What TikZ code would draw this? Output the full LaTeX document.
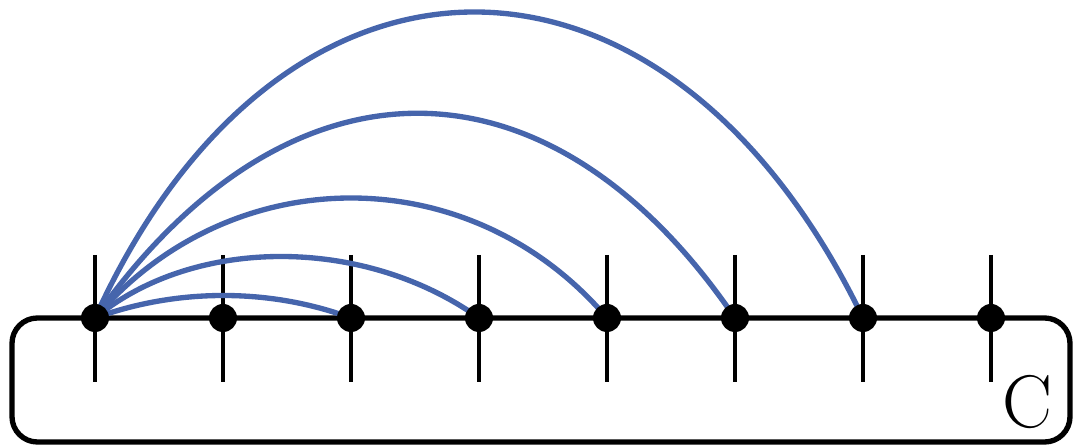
\documentclass[tikz,border=0pt]{standalone}
\definecolor{arcblue}{RGB}{70,101,172}
\begin{document}
\begin{tikzpicture}[x=0.75pt,y=-0.75pt,
  dot/.style={circle,fill=black,inner sep=0pt,minimum size=21pt},
  tick/.style={line width=2.4pt},
  arcline/.style={draw=arcblue,line width=4pt},
  frame/.style={line width=4pt,rounded corners=19pt}]
\useasboundingbox (0,0) rectangle (1076,448);
\draw[frame] (12,318) rectangle (1070,442);
\foreach \i in {1,...,8} {
  \coordinate (t\i) at ({95+128*(\i-1)},255);
  \coordinate (b\i) at ({95+128*(\i-1)},382);
  \draw[tick] (t\i) -- (b\i);
}
\foreach \i in {1,...,8} {
  \coordinate (p\i) at ({95+128*(\i-1)},318);
}
\draw[arcline] (p1) .. controls (177,288) and (270,288) .. (p3);
\draw[arcline] (p1) .. controls (194,236) and (364,236) .. (p4);
\draw[arcline] (p1) .. controls (231,158) and (471,158) .. (p5);
\draw[arcline] (p1) .. controls (288,45) and (549,45) .. (p6);
\draw[arcline] (p1) .. controls (280,-90) and (666,-90) .. (p7);
\foreach \i in {1,...,8} {
  \node[dot] (d\i) at (p\i) {};
}
\node[font=\fontsize{56}{56}\selectfont,inner sep=0pt,anchor=base] (lab) at (1027,428) {C};
\end{tikzpicture}
\end{document}
